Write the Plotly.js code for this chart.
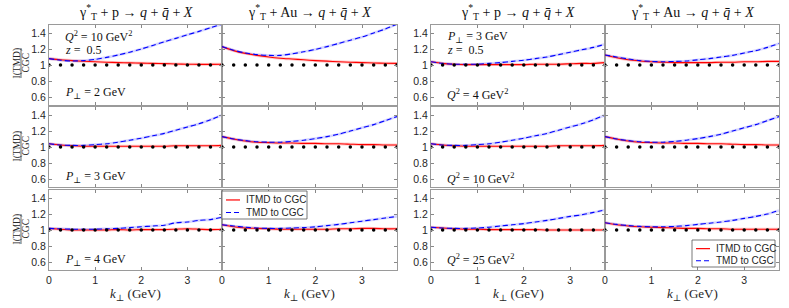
<!DOCTYPE html>
<html><head><meta charset="utf-8">
<script src="https://cdn.plot.ly/plotly-3.0.1.min.js"></script>
<style>html,body{margin:0;padding:0;background:#fff}#chart{width:789px;height:308px}</style>
</head><body><div id="chart"></div>
<script>
// ---- data ----
const k = [0,0.25,0.5,0.75,1,1.25,1.5,1.75,2,2.25,2.5,2.75,3,3.25,3.5,3.75];
const cgc = [1,1,1,1,1,1,1,1,1,1,1,1,1,1,1,1];

const itmd_p_P2_Q10 = [1.08,1.065,1.055,1.047,1.04,1.035,1.03,1.027,1.023,1.02,1.017,1.013,1.01,1.008,1.008,1.01];
const tmd_p_P2_Q10  = [1.08,1.06,1.05,1.055,1.07,1.095,1.125,1.16,1.2,1.245,1.29,1.333,1.377,1.42,1.465,1.51];
const itmd_Au_P2_Q10 = [1.23,1.18,1.145,1.12,1.10,1.085,1.075,1.065,1.055,1.048,1.04,1.035,1.03,1.025,1.022,1.02];
const tmd_Au_P2_Q10  = [1.23,1.185,1.15,1.13,1.12,1.12,1.14,1.165,1.195,1.23,1.27,1.31,1.35,1.40,1.45,1.51];
const itmd_p_P3_Q4 = [1.04,1.02,1.01,1.005,1.005,1.005,1.005,1.005,1.005,1.01,1.01,1.01,1.015,1.02,1.02,1.03];
const tmd_p_P3_Q4  = [1.04,1.02,1.01,1.01,1.01,1.02,1.03,1.045,1.06,1.08,1.10,1.13,1.16,1.19,1.22,1.26];
const itmd_Au_P3_Q4 = [1.125,1.09,1.065,1.05,1.04,1.035,1.03,1.03,1.03,1.03,1.035,1.035,1.04,1.04,1.045,1.045];
const tmd_Au_P3_Q4  = [1.125,1.10,1.075,1.055,1.045,1.04,1.045,1.05,1.065,1.08,1.10,1.12,1.15,1.18,1.22,1.27];
const itmd_p_P3_Q10 = [1.04,1.025,1.015,1.01,1.01,1.01,1.01,1.01,1.01,1.01,1.01,1.015,1.015,1.015,1.015,1.02];
const tmd_p_P3_Q10  = [1.04,1.025,1.02,1.02,1.03,1.04,1.06,1.085,1.11,1.14,1.17,1.21,1.25,1.29,1.34,1.40];
const itmd_Au_P3_Q10 = [1.13,1.10,1.075,1.06,1.055,1.05,1.05,1.045,1.045,1.04,1.04,1.035,1.03,1.03,1.025,1.025];
const tmd_Au_P3_Q10  = [1.13,1.10,1.08,1.065,1.06,1.06,1.07,1.085,1.105,1.13,1.16,1.20,1.24,1.28,1.33,1.38];
const itmd_p_P4_Q10 = [1.02,1.01,1.0,1.0,1.0,1.0,1.005,1.0,1.005,1.005,1.005,1.01,1.015,1.01,1.005,1.01];
const tmd_p_P4_Q10  = [1.02,1.015,1.01,1.01,1.01,1.015,1.02,1.03,1.04,1.05,1.06,1.09,1.10,1.12,1.13,1.16];
const itmd_Au_P4_Q10 = [1.065,1.04,1.025,1.02,1.015,1.01,1.01,1.01,1.01,1.01,1.015,1.015,1.02,1.02,1.015,1.015];
const tmd_Au_P4_Q10  = [1.065,1.05,1.035,1.025,1.02,1.02,1.025,1.03,1.04,1.055,1.07,1.09,1.11,1.13,1.15,1.17];
const itmd_p_P3_Q25 = [1.035,1.025,1.015,1.01,1.01,1.005,1.005,1.005,1.005,1.005,1.0,1.0,1.0,1.0,1.0,1.0];
const tmd_p_P3_Q25  = [1.035,1.025,1.02,1.02,1.025,1.035,1.05,1.065,1.08,1.10,1.12,1.145,1.17,1.19,1.22,1.25];
const itmd_Au_P3_Q25 = [1.09,1.065,1.05,1.04,1.035,1.03,1.025,1.02,1.02,1.015,1.015,1.01,1.01,1.01,1.01,1.01];
const tmd_Au_P3_Q25  = [1.09,1.07,1.055,1.045,1.04,1.04,1.045,1.055,1.07,1.085,1.10,1.12,1.145,1.17,1.20,1.245];

const xTickVals = [0,1,2,3];
const xTickText = ['0','1','2','3'];
const yTickVals = [0.6,0.8,1,1.2,1.4];
const yTickText = ['0.6','0.8','1','1.2','1.4'];

const panels = [
  [[itmd_p_P2_Q10,tmd_p_P2_Q10],[itmd_Au_P2_Q10,tmd_Au_P2_Q10],[itmd_p_P3_Q4,tmd_p_P3_Q4],[itmd_Au_P3_Q4,tmd_Au_P3_Q4]],
  [[itmd_p_P3_Q10,tmd_p_P3_Q10],[itmd_Au_P3_Q10,tmd_Au_P3_Q10],[itmd_p_P3_Q10,tmd_p_P3_Q10],[itmd_Au_P3_Q10,tmd_Au_P3_Q10]],
  [[itmd_p_P4_Q10,tmd_p_P4_Q10],[itmd_Au_P4_Q10,tmd_Au_P4_Q10],[itmd_p_P3_Q25,tmd_p_P3_Q25],[itmd_Au_P3_Q25,tmd_Au_P3_Q25]]
];

// ---- layout geometry ----
const W = 789, H = 308;
const colPx = [[49,222],[222,397],[431,605],[605,779]];
const rowPx = [[25,105],[107,187],[190,270]];
const px = v => v / W;
const py = v => 1 - v / H;
const SERIF = 'Liberation Serif, DejaVu Serif, serif';
const SANS = 'Liberation Sans, Arial, sans-serif';
const TXT = '#262626';

const data = [];
const layout = {
  width: W, height: H,
  margin: {l:0, r:0, t:0, b:0},
  paper_bgcolor: '#fff', plot_bgcolor: '#fff',
  showlegend: false,
  font: {family: SANS, size: 10.5, color: TXT},
  annotations: [], shapes: []
};

for (let r = 0; r < 3; r++) {
  for (let c = 0; c < 4; c++) {
    const n = r * 4 + c + 1;
    const sx = n === 1 ? '' : String(n);
    const xa = 'x' + sx, ya = 'y' + sx;
    const [itmd, tmd] = panels[r][c];
    layout['xaxis' + sx] = {
      domain: [px(colPx[c][0]), px(colPx[c][1])], anchor: ya,
      range: [0, 3.75], tickvals: xTickVals, ticktext: xTickText,
      showticklabels: r === 2, ticks: 'inside', ticklen: 3, tickcolor: '#888',
      showline: true, linecolor: '#9a9a9a', linewidth: 1, mirror: 'ticks',
      showgrid: false, zeroline: false, fixedrange: true,
      tickfont: {family: SANS, size: 10.5, color: TXT}
    };
    layout['yaxis' + sx] = {
      domain: [py(rowPx[r][1]), py(rowPx[r][0])], anchor: xa,
      range: [0.5, 1.5], tickvals: yTickVals, ticktext: yTickText,
      showticklabels: (c === 0 || c === 2), ticks: 'inside', ticklen: 3, tickcolor: '#888',
      showline: true, linecolor: '#9a9a9a', linewidth: 1, mirror: 'ticks',
      showgrid: false, zeroline: false, fixedrange: true,
      tickfont: {family: SANS, size: 10.5, color: TXT}
    };
    const common = {x: k, xaxis: xa, yaxis: ya, type: 'scatter', hoverinfo: 'skip', showlegend: false};
    data.push(Object.assign({}, common, {y: itmd, mode: 'lines', line: {color: 'rgba(255,90,90,0.3)', width: 3, shape: 'spline', smoothing: 0.8}}));
    data.push(Object.assign({}, common, {y: tmd, mode: 'lines', line: {color: 'rgba(90,90,255,0.25)', width: 2.6, shape: 'spline', smoothing: 0.8}}));
    data.push(Object.assign({}, common, {y: itmd, mode: 'lines', name: 'ITMD to CGC', line: {color: '#ff0000', width: 1.1, shape: 'spline', smoothing: 0.8}}));
    data.push(Object.assign({}, common, {y: tmd, mode: 'lines', name: 'TMD to CGC', line: {color: '#0000ff', width: 1.1, dash: '5px,3px', shape: 'spline', smoothing: 0.8}}));
    data.push(Object.assign({}, common, {y: cgc, mode: 'markers', name: 'CGC', marker: {color: '#000', size: 3.5}}));
  }
}

const A = layout.annotations, S = layout.shapes;
// column titles
const titles = [
  'γ<sup>*</sup><sub>T</sub> + p → <i>q</i> + <i>q̄</i> + <i>X</i>',
  'γ<sup>*</sup><sub>T</sub> + Au → <i>q</i> + <i>q̄</i> + <i>X</i>',
  'γ<sup>*</sup><sub>T</sub> + p → <i>q</i> + <i>q̄</i> + <i>X</i>',
  'γ<sup>*</sup><sub>T</sub> + Au → <i>q</i> + <i>q̄</i> + <i>X</i>'
];
titles.forEach((t, c) => A.push({text: t, xref: 'paper', yref: 'paper', x: px((colPx[c][0] + colPx[c][1]) / 2), y: py(12),
  xanchor: 'center', yanchor: 'middle', showarrow: false, font: {family: SERIF, size: 14, color: '#111'}}));

// x axis titles
for (let c = 0; c < 4; c++) {
  A.push({text: '<i>k</i><sub>⊥</sub> (GeV)', xref: 'paper', yref: 'paper', x: px((colPx[c][0] + colPx[c][1]) / 2), y: py(294),
    xanchor: 'center', yanchor: 'middle', showarrow: false, font: {family: SERIF, size: 13, color: TXT}});
}

// y label fractions
[63, 146, 229].forEach(cy => {
  A.push({text: 'I(TMD)', xref: 'paper', yref: 'paper', x: px(16.5), y: py(cy), textangle: -90,
    xanchor: 'center', yanchor: 'middle', showarrow: false, font: {family: SERIF, size: 9.5, color: TXT}});
  A.push({text: 'CGC', xref: 'paper', yref: 'paper', x: px(25.5), y: py(cy), textangle: -90,
    xanchor: 'center', yanchor: 'middle', showarrow: false, font: {family: SERIF, size: 9.5, color: TXT}});
  S.push({type: 'line', xref: 'paper', yref: 'paper', x0: px(21), x1: px(21), y0: py(cy - 15), y1: py(cy + 15),
    line: {color: TXT, width: 0.7}});
});

// panel labels
const labels = [
  ['<i>Q</i><sup>2</sup> = 10 GeV<sup>2</sup>', 63, 37],
  ['<i>z</i> =  0.5', 63, 50],
  ['<i>P</i><sub>⊥</sub> = 2 GeV', 63, 93],
  ['<i>P</i><sub>⊥</sub> = 3 GeV', 63, 177],
  ['<i>P</i><sub>⊥</sub> = 4 GeV', 63, 260],
  ['<i>P</i><sub>⊥</sub> = 3 GeV', 445, 37],
  ['<i>z</i> =  0.5', 445, 50],
  ['<i>Q</i><sup>2</sup> = 4 GeV<sup>2</sup>', 445, 94],
  ['<i>Q</i><sup>2</sup> = 10 GeV<sup>2</sup>', 445, 178],
  ['<i>Q</i><sup>2</sup> = 25 GeV<sup>2</sup>', 445, 259]
];
labels.forEach(([t, x, y]) => A.push({text: t, xref: 'paper', yref: 'paper', x: px(x), y: py(y),
  xanchor: 'left', yanchor: 'middle', showarrow: false, font: {family: SERIF, size: 12, color: '#111'}}));

// legends (drawn boxes)
function legendBox(x0, y0, x1, y1) {
  S.push({type: 'rect', xref: 'paper', yref: 'paper', x0: px(x0), x1: px(x1), y0: py(y0), y1: py(y1),
    fillcolor: '#fff', line: {color: '#555', width: 0.8}, layer: 'above'});
  const r1 = y0 + (y1 - y0) * 0.32, r2 = y0 + (y1 - y0) * 0.77;
  S.push({type: 'line', xref: 'paper', yref: 'paper', x0: px(x0 + 4), x1: px(x0 + 18), y0: py(r1), y1: py(r1),
    line: {color: '#ff0000', width: 1.2}, layer: 'above'});
  S.push({type: 'line', xref: 'paper', yref: 'paper', x0: px(x0 + 4), x1: px(x0 + 18), y0: py(r2), y1: py(r2),
    line: {color: '#0000ff', width: 1.1, dash: '5px,3px'}, layer: 'above'});
  A.push({text: 'ITMD to CGC', xref: 'paper', yref: 'paper', x: px(x0 + 22), y: py(r1), xanchor: 'left', yanchor: 'middle',
    showarrow: false, font: {family: SANS, size: 10, color: TXT}});
  A.push({text: 'TMD to CGC', xref: 'paper', yref: 'paper', x: px(x0 + 22), y: py(r2), xanchor: 'left', yanchor: 'middle',
    showarrow: false, font: {family: SANS, size: 10, color: TXT}});
}
legendBox(222, 191, 307, 219);
legendBox(692, 240, 775, 267);

Plotly.newPlot('chart', data, layout, {displayModeBar: false, staticPlot: true});
</script>
</body></html>
